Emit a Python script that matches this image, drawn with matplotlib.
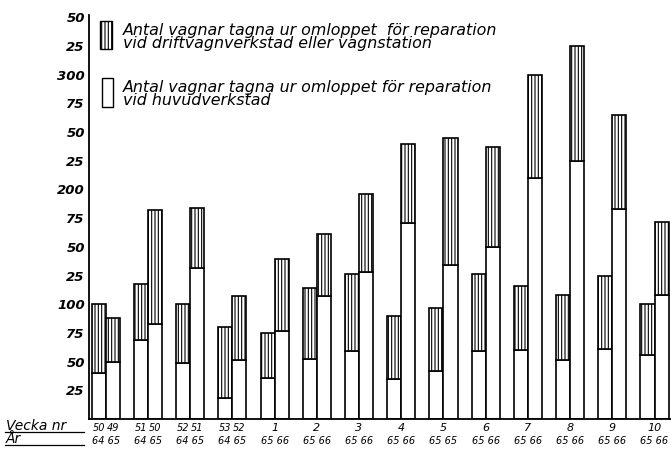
import matplotlib
matplotlib.use("Agg")
import matplotlib.pyplot as plt
from matplotlib.lines import Line2D

# Data: two bars per group (one week in each year)
week_labels = ["50 49", "51 50", "52 51", "53 52", "1", "2", "3", "4", "5", "6", "7", "8", "9", "10"]
year_labels = ["64 65", "64 65", "64 65", "64 65", "65 66", "65 66", "65 66", "65 66",
               "65 65", "65 66", "65 66", "65 66", "65 66", "65 66"]

# totals per bar (first bar, second bar in each pair)
total_first = [100, 118, 100, 80, 75, 114, 126, 90, 97, 126, 116, 108, 125, 100]
total_second = [88, 182, 184, 107, 139, 161, 196, 240, 245, 237, 300, 325, 265, 172]
# white part (huvudverkstad)
main_first = [40, 69, 49, 18, 36, 52, 59, 35, 42, 59, 60, 51, 61, 56]
main_second = [50, 83, 132, 51, 77, 107, 128, 171, 134, 150, 210, 225, 183, 108]

y_ticks = [25, 50, 75, 100, 125, 150, 175, 200, 225, 250, 275, 300, 325, 350]
y_tick_labels = ["25", "50", "75", "100", "25", "50", "75", "200", "25", "50", "75", "300", "25", "50"]

legend_hatch = "Antal vagnar tagna ur omloppet  för reparation\nvid driftvagnverkstad eller vagnstation"
legend_white = "Antal vagnar tagna ur omloppet för reparation\nvid huvudverkstad"

plt.rcParams["hatch.linewidth"] = 0.8
plt.rcParams["font.family"] = "DejaVu Sans"

fig = plt.figure(figsize=(6.71, 4.55), dpi=100)
ax = fig.add_axes([89 / 671, 36 / 455, 1 - 89 / 671, (419 - 15) / 455])

n = len(week_labels)
for i in range(n):
    for j, (tot, main) in enumerate([(total_first[i], main_first[i]), (total_second[i], main_second[i])]):
        x = 3 * i + j
        ax.bar(x, main, width=1, align="edge", facecolor="white", edgecolor="black", linewidth=1.2)
        ax.bar(x, tot - main, bottom=main, width=1, align="edge", facecolor="white",
               edgecolor="black", hatch="|||||", linewidth=1.2)

ax.set_xlim(-0.19, 41.17)
ax.set_ylim(0, 352)
ax.spines["top"].set_visible(False)
ax.spines["right"].set_visible(False)
ax.spines["left"].set_linewidth(1.3)
ax.spines["bottom"].set_linewidth(1.3)
ax.set_yticks(y_ticks)
ax.set_yticklabels(y_tick_labels, fontstyle="italic", fontweight="bold", fontsize=9.5)
ax.tick_params(axis="y", length=0, pad=3)
ax.set_xticks([])

# x labels under each pair
for i in range(n):
    wk = week_labels[i].split()
    if len(wk) == 2:
        ax.text(3 * i + 0.5, -8, wk[0], ha="center", va="center", fontsize=7, fontstyle="italic")
        ax.text(3 * i + 1.5, -8, wk[1], ha="center", va="center", fontsize=7, fontstyle="italic")
    else:
        ax.text(3 * i + 1, -8, wk[0], ha="center", va="center", fontsize=8, fontstyle="italic")
    ax.text(3 * i + 1, -19, year_labels[i], ha="center", va="center", fontsize=7, fontstyle="italic")

# row headings
fig.text(6 / 671, 1 - 426 / 455, "Vecka nr", fontsize=10, fontstyle="italic", va="center")
fig.text(6 / 671, 1 - 439 / 455, "År", fontsize=10, fontstyle="italic", va="center")
fig.add_artist(Line2D([5 / 671, 84 / 671], [1 - 432 / 455] * 2, color="black", lw=0.9))
fig.add_artist(Line2D([5 / 671, 84 / 671], [1 - 445 / 455] * 2, color="black", lw=0.9))

# legend drawn as boxes with text
ax.bar(0.62, 25, bottom=322, width=0.85, align="edge", facecolor="white", edgecolor="black",
       hatch="|||||", linewidth=1.0, clip_on=False)
ax.bar(0.7, 25, bottom=272, width=0.85, align="edge", facecolor="white", edgecolor="black",
       linewidth=1.0, clip_on=False)
ax.text(2.2, 333, legend_hatch, fontsize=11.4, fontstyle="italic", va="center", linespacing=0.85)
ax.text(2.2, 283, legend_white, fontsize=11.4, fontstyle="italic", va="center", linespacing=0.85)

fig.savefig("out.png", dpi=100)
